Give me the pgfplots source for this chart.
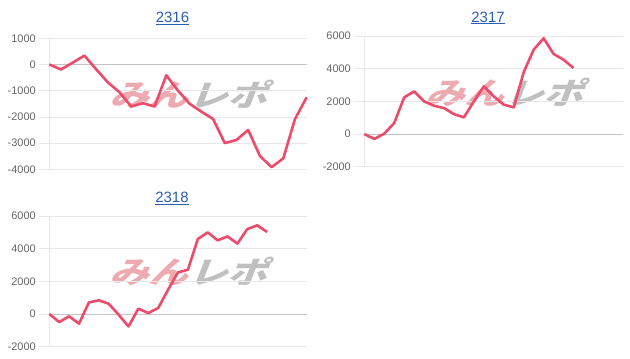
\documentclass[border=0pt]{standalone}
\usepackage{pgfplots}
\pgfplotsset{compat=1.18}
\usepackage{fontspec}
\setmainfont{Liberation Sans}
\newfontfamily\wmfont{Noto Sans CJK JP}[FakeSlant=0.3]
\definecolor{linec}{HTML}{EE4B6A}
\definecolor{titlec}{HTML}{2A5DB5}
\definecolor{gridc}{HTML}{E8E8E8}
\definecolor{zeroc}{HTML}{C4C4C4}
\definecolor{tickc}{HTML}{666666}
\definecolor{wmpink}{HTML}{EDAAB0}
\definecolor{wmgray}{HTML}{C0C0C0}
\pgfplotsset{
  mini/.style={
    scale only axis,
    axis x line=none,
    axis y line=left,
    axis line style={gridc,-},
    ymajorgrids,
    grid style={gridc,line width=0.8bp},
    major tick length=10bp,
    tick align=outside,
    ytick style={gridc,line width=0.8bp},
    yticklabel style={font=\fontsize{11}{12}\selectfont,text=tickc},
    /pgf/number format/assume math mode=true,
    /pgf/number format/1000 sep={},
    extra y ticks={0},
    extra y tick style={grid style={zeroc,line width=0.8bp},tick style={zeroc,line width=0.8bp}},
    clip=false,
  },
  ser/.style={linec,line width=2.6bp,line join=round,no marks},
}
\begin{document}
\begin{tikzpicture}[x=1bp,y=1bp]
% watermarks
\foreach \cx/\cy in {188/264,504/266,188/86.5}{
  \node[inner sep=0,xscale=1.2,yscale=0.92] at (\cx,\cy) {\fontsize{33}{33}\selectfont\wmfont\bfseries\textcolor{wmpink}{みん}\textcolor{wmgray}{レポ}};
}
% 2316
\begin{axis}[mini,at={(49.3bp,188.7bp)},anchor=south west,width=257.4bp,height=131bp,
  xmin=0,xmax=22,ymin=-4000,ymax=1000,ytick={-4000,-3000,-2000,-1000,1000}]
\addplot[ser] coordinates {(0,0)(1,-190)(2,70)(3,340)(4,-180)(5,-680)(6,-1060)(7,-1600)(8,-1480)(9,-1600)(10,-410)(11,-1000)(12,-1500)(13,-1800)(14,-2080)(15,-3000)(16,-2880)(17,-2500)(18,-3490)(19,-3920)(20,-3580)(21,-2080)(22,-1250)};
\end{axis}
% 2317
\begin{axis}[mini,at={(364.3bp,191.3bp)},anchor=south west,width=259bp,height=130.7bp,
  xmin=0,xmax=26,ymin=-2000,ymax=6000,ytick={-2000,2000,4000,6000}]
\addplot[ser] coordinates {(0,0)(1,-300)(2,20)(3,670)(4,2240)(5,2610)(6,2000)(7,1730)(8,1590)(9,1220)(10,1020)(11,2000)(12,2920)(13,2300)(14,1800)(15,1630)(16,3780)(17,5160)(18,5860)(19,4900)(20,4550)(21,4040)};
\end{axis}
% 2318
\begin{axis}[mini,at={(49.3bp,11.3bp)},anchor=south west,width=257.4bp,height=130.7bp,
  xmin=0,xmax=26,ymin=-2000,ymax=6000,ytick={-2000,2000,4000,6000}]
\addplot[ser] coordinates {(0,0)(1,-490)(2,-140)(3,-590)(4,710)(5,840)(6,630)(7,-40)(8,-760)(9,330)(10,60)(11,370)(12,1490)(13,2550)(14,2710)(15,4590)(16,5000)(17,4510)(18,4750)(19,4310)(20,5200)(21,5430)(22,5020)};
\end{axis}
% titles
\node[anchor=base,text=titlec,inner sep=0] at (172.5,335.5) {\fontsize{15}{16}\selectfont\underline{2316}};
\node[anchor=base,text=titlec,inner sep=0] at (488,336) {\fontsize{15}{16}\selectfont\underline{2317}};
\node[anchor=base,text=titlec,inner sep=0] at (172,155.5) {\fontsize{15}{16}\selectfont\underline{2318}};
\path (0,0) rectangle (630,358);
\end{tikzpicture}
\end{document}
